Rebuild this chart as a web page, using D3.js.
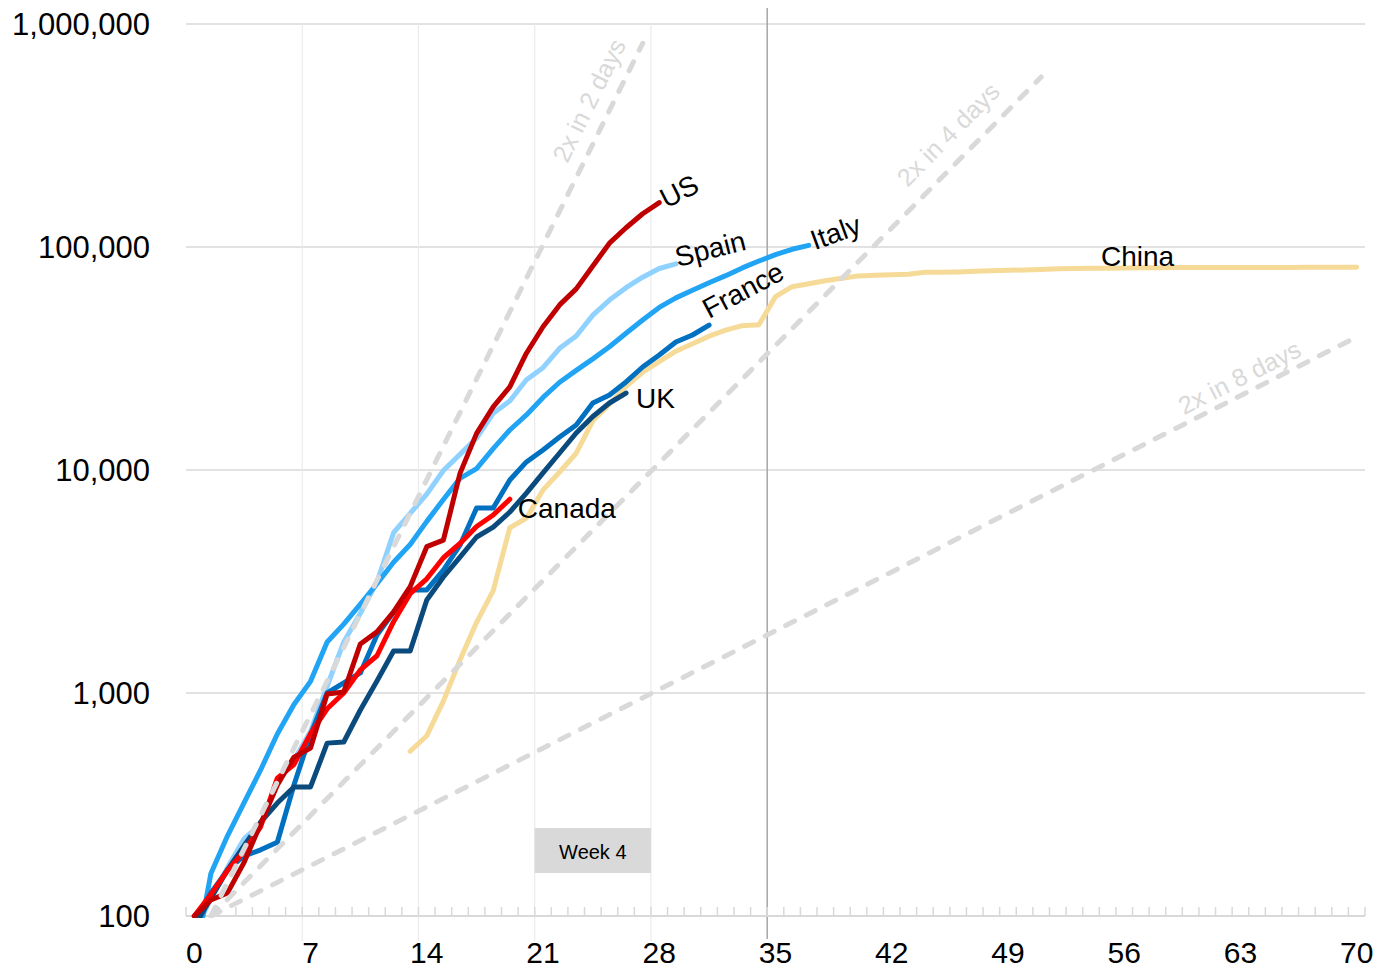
<!DOCTYPE html>
<html><head><meta charset="utf-8">
<script src="https://cdn.jsdelivr.net/npm/d3@7"></script>
<style>
body{margin:0;background:#fff;}
svg{display:block;font-family:"Liberation Sans",Arial,Helvetica,sans-serif;}
</style></head>
<body><svg id="chart" width="1378" height="970"></svg>
<script>
// ---- data (days since ~100th case) ----
const dayTicks = [0, 7, 14, 21, 28, 35, 42, 49, 56, 63, 70];
const yTicks = [100, 1000, 10000, 100000, 1000000];

const usCases = [100, 118, 127, 174, 259, 387, 516, 566, 990, 1010, 1660, 1880, 2310, 3000, 4530, 4850, 9660, 14600, 19200, 23600, 33400, 43900, 55000, 64900, 82200, 104000, 122000, 141000, 158000];
const canadaCases = [100, 125, 160, 195, 252, 415, 478, 657, 850, 1000, 1270, 1469, 2088, 2790, 3251, 4042, 4682, 5576, 6280, 7398];
const spainCases = [84, 120, 165, 222, 259, 400, 500, 673, 1073, 1695, 2277, 3146, 5232, 6391, 7798, 9942, 11748, 13910, 17963, 20410, 25374, 28768, 35136, 39885, 49515, 57786, 65719, 73235, 80110, 84000];
const italyCases = [62, 155, 229, 322, 453, 655, 888, 1128, 1694, 2036, 2502, 3089, 3858, 4636, 5883, 7375, 9172, 10149, 12462, 15113, 17660, 21157, 24747, 27980, 31506, 35713, 41035, 47021, 53578, 59138, 63927, 69176, 74386, 80589, 86498, 92472, 97689, 101739];
const franceCases = [95, 127, 161, 186, 198, 214, 387, 650, 1000, 1110, 1230, 1820, 2300, 2900, 2900, 3560, 4600, 6750, 6750, 9020, 10870, 12300, 14070, 15920, 19970, 21680, 24820, 28970, 32810, 37520, 40300, 44660];
const ukCases = [90, 120, 161, 207, 264, 321, 379, 379, 596, 603, 839, 1132, 1543, 1543, 2611, 3312, 4071, 5007, 5550, 6480, 7880, 9700, 11920, 14650, 17380, 19970, 22130];
const chinaStartDay = 13;
const chinaCases = [548, 643, 920, 1406, 2075, 2877, 5509, 6087, 8141, 9802, 11891, 16630, 19716, 23707, 27440, 30587, 34110, 36814, 39829, 42354, 44386, 44759, 59895, 66358, 68413, 70513, 72434, 74211, 74619, 75077, 75550, 77001, 77022, 77241, 77754, 78166, 78600, 78928, 79356, 79932, 80136, 80261, 80386, 80537, 80690, 80770, 80823, 80860, 80887, 80921, 80932, 80945, 80977, 81003, 81033, 81058, 81102, 81156];

// doubling reference lines: [day, value] end points
const doublingLabels = ["2x in 2 days", "2x in 4 days", "2x in 8 days"];
const doublingStart = [[1, 100], [1, 100], [1, 100]];
const doublingEnd = [[27, 819200], [51, 579000], [70, 39500]];

// ---- layout ----
const svg = d3.select("#chart");
const x = d3.scaleLinear().domain([-0.5, 70.5]).range([186, 1365]);
const y = d3.scaleLog().domain([100, 1000000]).range([916, 24]);

// horizontal gridlines
svg.append("g").selectAll("line").data(yTicks.filter(v => v > 100)).join("line")
  .attr("x1", x(-0.5)).attr("x2", x(70.5))
  .attr("y1", d => y(d)).attr("y2", d => y(d))
  .attr("stroke", "#d9d9d9").attr("stroke-width", 1.5);

// weekly vertical lines
const weekBounds = [6.5, 13.5, 20.5, 27.5];
svg.append("g").selectAll("line").data(weekBounds).join("line")
  .attr("x1", d => x(d)).attr("x2", d => x(d))
  .attr("y1", y(1000000)).attr("y2", 941)
  .attr("stroke", "#ebebeb").attr("stroke-width", 1.2);

// week 4 box
const weekBox = [20.5, 27.5];
svg.append("rect")
  .attr("x", x(weekBox[0])).attr("width", x(weekBox[1]) - x(weekBox[0]))
  .attr("y", 828).attr("height", 45).attr("fill", "#d9d9d9");
svg.append("text").attr("x", (x(weekBox[0]) + x(weekBox[1])) / 2).attr("y", 859)
  .attr("text-anchor", "middle").attr("font-size", 20).attr("fill", "#000").text("Week 4");

// today marker
const todayLine = 34.5;
svg.append("line").attr("x1", x(todayLine)).attr("x2", x(todayLine))
  .attr("y1", 8).attr("y2", 939).attr("stroke", "#a6a6a6").attr("stroke-width", 1.5);

// x axis
svg.append("line").attr("x1", x(-0.5)).attr("x2", x(70.5)).attr("y1", y(100)).attr("y2", y(100))
  .attr("stroke", "#d9d9d9").attr("stroke-width", 2);
svg.append("g").selectAll("line").data(d3.range(-0.5, 71, 1)).join("line")
  .attr("x1", d => x(d)).attr("x2", d => x(d))
  .attr("y1", y(100)).attr("y2", y(100) - 9)
  .attr("stroke", "#d9d9d9").attr("stroke-width", 1.5);
svg.append("g").selectAll("text").data(dayTicks).join("text")
  .attr("x", d => x(d)).attr("y", 963).attr("text-anchor", "middle")
  .attr("font-size", 30).attr("fill", "#000").text(d => d);

// y axis labels
svg.append("g").selectAll("text").data(yTicks).join("text")
  .attr("x", 150).attr("y", d => y(d) + 11).attr("text-anchor", "end")
  .attr("font-size", 31).attr("fill", "#000").text(d => d3.format(",")(d));

// clip
svg.append("defs").append("clipPath").attr("id", "plot")
  .append("rect").attr("x", 180).attr("y", 0).attr("width", 1190).attr("height", 918);

const series = [
  {name: "China", vals: chinaCases, start: chinaStartDay, color: "#f6da98"},
  {name: "Spain", vals: spainCases, start: 0, color: "#8fd1ff"},
  {name: "Italy", vals: italyCases, start: 0, color: "#22a4f5"},
  {name: "France", vals: franceCases, start: 0, color: "#0070c0"},
  {name: "UK", vals: ukCases, start: 0, color: "#0a4a7c"},
  {name: "Canada", vals: canadaCases, start: 0, color: "#ff0000"},
  {name: "US", vals: usCases, start: 0, color: "#c00000"}
];

const gLines = svg.append("g").attr("clip-path", "url(#plot)");
series.forEach(s => {
  const line = d3.line().x((d, i) => x(s.start + i)).y(d => y(d));
  gLines.append("path").datum(s.vals).attr("d", line)
    .attr("fill", "none").attr("stroke", s.color).attr("stroke-width", 5)
    .attr("stroke-linejoin", "round").attr("stroke-linecap", "round");
});

// doubling lines
const dl = d3.line().x(d => x(d[0])).y(d => y(d[1]));
doublingLabels.forEach((lab, k) => {
  gLines.append("path").datum([doublingStart[k], doublingEnd[k]]).attr("d", dl)
    .attr("fill", "none").attr("stroke", "#d9d9d9").attr("stroke-width", 5)
    .attr("stroke-dasharray", "10,13").attr("stroke-linecap", "round");
});
const labelDay = [25, 46.5, 63.4];
const labelOff = [-14, -17, -8];
doublingLabels.forEach((lab, k) => {
  const [d0, v0] = doublingStart[k], [d1, v1] = doublingEnd[k];
  const t = (labelDay[k] - d0) / (d1 - d0);
  const v = Math.pow(10, Math.log10(v0) + t * (Math.log10(v1) - Math.log10(v0)));
  const px = x(labelDay[k]), py = y(v);
  const ang = Math.atan2(y(v1) - y(v0), x(d1) - x(d0)) * 180 / Math.PI;
  svg.append("text").attr("transform", `translate(${px},${py}) rotate(${ang})`)
    .attr("x", 0).attr("y", labelOff[k]).attr("text-anchor", "middle")
    .attr("font-size", 25).attr("fill", "#d9d9d9").text(lab);
});

// series labels
const labelSpec = {
  US: {dx: 7, dy: 6, rot: -27},
  Spain: {dx: 2, dy: 3, rot: -14},
  Italy: {dx: 6, dy: 5, rot: -20},
  France: {dx: 0, dy: -6, rot: -28},
  UK: {dx: 10, dy: 15, rot: 0},
  Canada: {dx: 8, dy: 19, rot: 0}
};
series.forEach(s => {
  const sp = labelSpec[s.name];
  if (!sp) return;
  const lastI = s.vals.length - 1;
  const px = x(s.start + lastI) + sp.dx, py = y(s.vals[lastI]) + sp.dy;
  svg.append("text").attr("transform", `translate(${px},${py}) rotate(${sp.rot})`)
    .attr("font-size", 28).attr("fill", "#000").text(s.name);
});
// China label sits above the plateau
const chinaLabelDay = 54.6;
svg.append("text").attr("x", x(chinaLabelDay)).attr("y", y(chinaCases[Math.floor(chinaLabelDay) - chinaStartDay]) - 2)
  .attr("font-size", 28).attr("fill", "#000").text("China");
</script>
</body></html>
